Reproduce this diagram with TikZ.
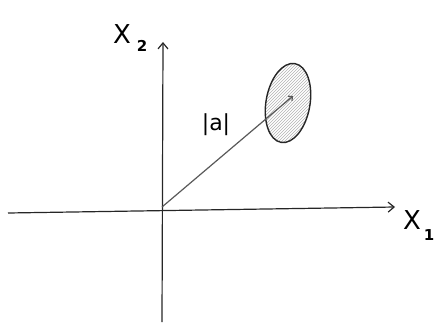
\documentclass[tikz,border=0pt]{standalone}
\usepackage{fontspec}
\setsansfont{DejaVu Sans}
\usetikzlibrary{arrows.meta,patterns,shapes.geometric}
\tikzset{
  axis/.style={draw=black!85, line width=1.2pt, -{Straight Barb[length=6pt,width=10pt]}},
  vec/.style={draw=black!65, line width=1.2pt, -{Straight Barb[length=3pt,width=6pt]}},
  lbl/.style={font=\sffamily\fontsize{26}{28}\selectfont, inner sep=0pt},
  sub/.style={font=\sffamily\bfseries\fontsize{15}{17}\selectfont, inner sep=0pt}
}
\begin{document}
\begin{tikzpicture}[x=1pt,y=-1pt]
\useasboundingbox (0,0) rectangle (437,324);
\coordinate (O) at (162,207);
\coordinate (xs) at (8,213);
\coordinate (xe) at (395,207);
\coordinate (ys) at (162,322);
\coordinate (ye) at (163,42);
\coordinate (tip) at (293,96);
\draw[axis] (xs) -- (xe);
\draw[axis] (ys) -- (ye);
\node[draw=black!85, line width=1.4pt, ellipse, minimum width=44pt, minimum height=80pt, rotate=-10, pattern=north east lines, pattern color=black!30, inner sep=0pt] (E) at (288,103) {};
\draw[vec] (O) -- (tip);
\node[lbl] (x2) at (122,34) {X};
\node[sub] (x2s) at (142,46) {2};
\node[lbl] (x1) at (412,220) {X};
\node[sub] (x1s) at (429,235) {1};
\node[font=\sffamily\fontsize{22}{24}\selectfont, inner sep=0pt] (a) at (216,125) {|a|};
\end{tikzpicture}
\end{document}
